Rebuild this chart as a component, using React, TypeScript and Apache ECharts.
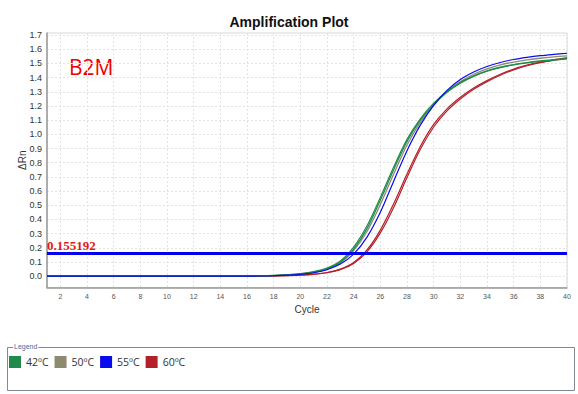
import React, { useEffect, useRef } from "react";
import * as echarts from "echarts";

const cycles = Array.from({ length: 40 }, (_, i) => i + 1);
const xTicks = [2, 4, 6, 8, 10, 12, 14, 16, 18, 20, 22, 24, 26, 28, 30, 32, 34, 36, 38, 40];
const yTicks = [0, 0.1, 0.2, 0.3, 0.4, 0.5, 0.6, 0.7, 0.8, 0.9, 1.0, 1.1, 1.2, 1.3, 1.4, 1.5, 1.6, 1.7];
const legendNames = ["42ºC", "50ºC", "55ºC", "60ºC"];
const threshold = 0.155192;

const green1 = [0, 0, 0, 0, 0, 0, 0, 0, 0, 0, 0, 0, 0, 0, 0, 0.001, 0.002, 0.005, 0.01, 0.018, 0.032, 0.057, 0.107, 0.205, 0.355, 0.555, 0.77, 0.965, 1.11, 1.22, 1.303, 1.366, 1.413, 1.448, 1.474, 1.493, 1.507, 1.518, 1.527, 1.535];
const green2 = [0, 0, 0, 0, 0, 0, 0, 0, 0, 0, 0, 0, 0, 0, 0, 0.001, 0.002, 0.004, 0.009, 0.016, 0.029, 0.052, 0.098, 0.19, 0.335, 0.535, 0.75, 0.95, 1.1, 1.212, 1.297, 1.361, 1.409, 1.445, 1.471, 1.49, 1.504, 1.515, 1.524, 1.532];
const gray = [0, 0, 0, 0, 0, 0, 0, 0, 0, 0, 0, 0, 0, 0, 0, 0.001, 0.002, 0.004, 0.008, 0.015, 0.027, 0.05, 0.095, 0.18, 0.315, 0.505, 0.72, 0.925, 1.085, 1.205, 1.3, 1.372, 1.424, 1.462, 1.49, 1.51, 1.525, 1.537, 1.546, 1.553];
const blue = [0, 0, 0, 0, 0, 0, 0, 0, 0, 0, 0, 0, 0, 0, 0, 0, 0.001, 0.003, 0.007, 0.013, 0.024, 0.045, 0.085, 0.155, 0.275, 0.45, 0.67, 0.885, 1.065, 1.205, 1.31, 1.387, 1.44, 1.479, 1.507, 1.528, 1.543, 1.555, 1.564, 1.572];
const red1 = [0, 0, 0, 0, 0, 0, 0, 0, 0, 0, 0, 0, 0, 0, 0, 0, 0, 0.002, 0.004, 0.008, 0.014, 0.026, 0.05, 0.097, 0.185, 0.325, 0.51, 0.72, 0.915, 1.07, 1.18, 1.262, 1.327, 1.38, 1.424, 1.461, 1.488, 1.509, 1.526, 1.54];
const red2 = [0, 0, 0, 0, 0, 0, 0, 0, 0, 0, 0, 0, 0, 0, 0, 0, 0, 0.002, 0.004, 0.007, 0.013, 0.024, 0.046, 0.09, 0.172, 0.305, 0.485, 0.695, 0.895, 1.052, 1.166, 1.25, 1.318, 1.372, 1.417, 1.455, 1.484, 1.506, 1.523, 1.538];

const colors = { g: "#1f8a4c", gray: "#8c8b70", b: "#0a0aee", r: "#b3202a" };

function pairs(vals: number[]) {
  return cycles.map((c, i) => [c, vals[i]]);
}

function lineSeries(name: string, vals: number[], color: string, width = 1.3) {
  return {
    type: "line",
    name,
    data: pairs(vals),
    smooth: 0.3,
    showSymbol: false,
    symbol: "none",
    color,
    lineStyle: { color, width },
    itemStyle: { color },
  };
}

export default function App() {
  const ref = useRef<HTMLDivElement>(null);
  useEffect(() => {
    if (!ref.current) return;
    const chart = echarts.init(ref.current, null, { renderer: "svg" });
    chart.setOption({
      animation: false,
      backgroundColor: "#fff",
      title: {
        text: "Amplification Plot",
        left: "center",
        top: 10,
        textStyle: { fontSize: 14, fontWeight: "bold", fontFamily: "Liberation Sans", color: "#111" },
      },
      legend: {
        data: legendNames,
        left: 9,
        top: 356,
        padding: 0,
        icon: "rect",
        itemWidth: 12,
        itemHeight: 12,
        itemGap: 6,
        textStyle: { fontSize: 10.5, fontFamily: "Open Sans", color: "#333" },
        selectedMode: false,
      },
      grid: {
        left: 47,
        right: 11,
        top: 33,
        bottom: 106.5,
        show: true,
        borderColor: "#d8d8d8",
        borderWidth: 1,
      },
      xAxis: {
        type: "value",
        min: 1,
        max: 40,
        name: "Cycle",
        nameLocation: "middle",
        nameGap: 17,
        nameMoveOverlap: false,
        nameTextStyle: { fontSize: 10, fontFamily: "Liberation Sans", color: "#333" },
        axisLine: { show: true, onZero: false, lineStyle: { color: "#999", width: 1.5 } },
        axisTick: { show: false, customValues: xTicks },
        axisLabel: { customValues: xTicks, fontSize: 7, color: "#555", fontFamily: "Liberation Sans", margin: 5 },
        splitLine: { show: true, lineStyle: { color: "#e2e2e2", type: [2, 2], width: 1 } },
      },
      yAxis: {
        type: "value",
        min: -0.08,
        max: 1.715,
        name: "ΔRn",
        nameLocation: "middle",
        nameGap: 20,
        nameMoveOverlap: false,
        nameRotate: 90,
        nameTextStyle: { fontSize: 10, fontFamily: "Liberation Sans", color: "#333" },
        axisLine: { show: true, lineStyle: { color: "#999", width: 1.5 } },
        axisTick: { show: false, customValues: yTicks },
        axisLabel: {
          customValues: yTicks,
          fontSize: 9,
          color: "#333",
          fontFamily: "Liberation Sans",
          margin: 5,
          formatter: (v: number) => v.toFixed(1),
        },
        splitLine: { show: true, lineStyle: { color: "#e2e2e2", type: [2, 2], width: 1 } },
      },
      series: [
        lineSeries("50ºC", gray, colors.gray),
        lineSeries("60ºC", red1, colors.r, 1.2),
        lineSeries("60ºC", red2, colors.r, 1.2),
        lineSeries("42ºC", green2, colors.g, 1.2),
        lineSeries("42ºC", green1, colors.g, 1.2),
        lineSeries("55ºC", blue, colors.b, 1.2),
        {
          type: "line",
          name: "threshold",
          data: [],
          markLine: {
            silent: true,
            symbol: ["none", "none"],
            data: [{ yAxis: threshold }],
            lineStyle: { color: "#0000ee", width: 3, type: "solid" },
            label: {
              show: true,
              position: "insideStartTop",
              formatter: "0.155192",
              color: "#e01818",
              fontFamily: "Liberation Serif",
              fontWeight: "bold",
              fontSize: 13,
              distance: [0, 1],
            },
          },
        },
      ],
      graphic: [
        {
          type: "text",
          left: 69,
          top: 56,
          style: { text: "B2M", fontSize: 21, fill: "#f00000", fontFamily: "Open Sans" },
        },
        {
          type: "rect",
          shape: { x: 7.5, y: 347.5, width: 567, height: 43 },
          style: { fill: "none", stroke: "#7d8b99", lineWidth: 1 },
        },
        {
          type: "text",
          x: 13,
          y: 343,
          style: { text: "Legend", fontSize: 7, fill: "#4a6a9a", fontFamily: "Liberation Sans", backgroundColor: "#fff", padding: [0, 1] },
        },
      ],
    });
    return () => chart.dispose();
  }, []);
  return <div ref={ref} style={{ position: "fixed", left: 0, top: 0, width: 578, height: 394 }} />;
}
